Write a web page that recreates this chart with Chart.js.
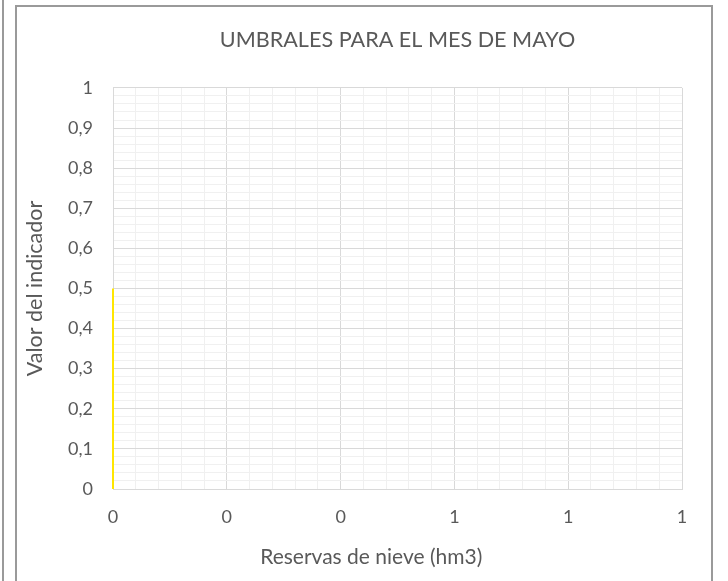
<!DOCTYPE html>
<html lang="es">
<head>
<meta charset="utf-8">
<title>Umbrales para el mes de mayo</title>
<script src="https://cdn.jsdelivr.net/npm/chart.js@4"></script>
<style>
    html, body { margin: 0; padding: 0; background: #ffffff; }
    body { width: 728px; height: 581px; position: relative; overflow: hidden; }
    /* marcos grises de la hoja */
    .marco-izq { position: absolute; left: 2px; top: 0; width: 1px; height: 581px; border-left: 2px solid #9a9a9a; }
    .marco { position: absolute; left: 15px; top: 5px; width: 694px; height: 600px; border: 2px solid #9a9a9a; }
    #umbralesChart { position: absolute; left: 0; top: 0; }
</style>
</head>
<body>
<div class="marco-izq"></div>
<div class="marco"></div>
<canvas id="umbralesChart" width="728" height="581"></canvas>
<script>
    // Datos de la serie (reservas de nieve vs valor del indicador)
    const reservasNieve = [0, 0];
    const valorIndicador = [0, 0.5];

    // Etiquetas de los ejes tal y como aparecen (formato sin decimales en X)
    const etiquetasX = ['0', '0', '0', '1', '1', '1'];
    const etiquetasY = ['0', '0,1', '0,2', '0,3', '0,4', '0,5', '0,6', '0,7', '0,8', '0,9', '1'];

    const colorTexto = '#595959';
    const rejillaMayor = '#d9d9d9';
    const rejillaMenor = '#f0f0f0';

    function esMultiplo(valor, paso) {
        const q = valor / paso;
        return Math.abs(q - Math.round(q)) < 1e-6;
    }

    function crearGraficoUmbrales() {
        const ctx = document.getElementById('umbralesChart');
        if (!ctx) {
            console.error("No se encontró el canvas 'umbralesChart'.");
            return;
        }

        const puntos = reservasNieve.map((x, i) => ({ x: x, y: valorIndicador[i] }));

        new Chart(ctx.getContext('2d'), {
            type: 'scatter',
            data: {
                datasets: [{
                    label: 'Umbral',
                    data: puntos,
                    showLine: true,
                    borderColor: '#ffe600',
                    borderWidth: 2,
                    pointRadius: 0,
                    pointHoverRadius: 0,
                    clip: false
                }]
            },
            options: {
                responsive: false,
                animation: false,
                layout: { padding: { left: 0, right: 46, top: 0, bottom: 0 } },
                plugins: {
                    legend: { display: false },
                    tooltip: { enabled: false },
                    title: {
                        display: true,
                        fullSize: false, // centrado sobre el área de trazado
                        text: 'UMBRALES PARA EL MES DE MAYO',
                        color: colorTexto,
                        font: { family: 'Lato', size: 21.6, weight: 'normal' },
                        padding: { top: 27, bottom: 35 }
                    }
                },
                scales: {
                    x: {
                        type: 'linear',
                        min: 0,
                        max: 1,
                        afterFit: (scale) => { scale.height = 581 - 489; },
                        ticks: {
                            stepSize: 0.04,
                            maxTicksLimit: 100,
                            autoSkip: false,
                            maxRotation: 0,
                            padding: 17,
                            color: colorTexto,
                            font: { family: 'Lato', size: 18 },
                            callback: function (value) {
                                if (!esMultiplo(value, 0.2)) return '';
                                return etiquetasX[Math.round(value / 0.2)];
                            }
                        },
                        grid: {
                            drawTicks: false,
                            color: (c) => (c.tick && esMultiplo(c.tick.value, 0.2)) ? rejillaMayor : rejillaMenor,
                            lineWidth: 1
                        },
                        border: { color: rejillaMayor, width: 1 },
                        title: {
                            display: true,
                            // espacios finales para desplazar el título algo a la izquierda, como en el original
                            text: 'Reservas de nieve (hm3)\u2002\u2002\u2002\u2002\u2002',
                            color: colorTexto,
                            font: { family: 'Lato', size: 21 },
                            padding: { top: 0, bottom: 11.5 }
                        }
                    },
                    y: {
                        type: 'linear',
                        min: 0,
                        max: 1,
                        afterFit: (scale) => { scale.width = 113; },
                        ticks: {
                            stepSize: 0.02,
                            maxTicksLimit: 100,
                            autoSkip: false,
                            padding: 20,
                            color: colorTexto,
                            font: { family: 'Lato', size: 18 },
                            callback: function (value) {
                                if (!esMultiplo(value, 0.1)) return '';
                                return etiquetasY[Math.round(value / 0.1)];
                            }
                        },
                        grid: {
                            drawTicks: false,
                            color: (c) => (c.tick && esMultiplo(c.tick.value, 0.1)) ? rejillaMayor : rejillaMenor,
                            lineWidth: 1
                        },
                        border: { color: rejillaMayor, width: 1 },
                        title: {
                            display: true,
                            text: 'Valor del indicador',
                            color: colorTexto,
                            font: { family: 'Lato', size: 21.5 },
                            padding: { top: 22, bottom: 0 }
                        }
                    }
                }
            }
        });
    }

    document.addEventListener('DOMContentLoaded', crearGraficoUmbrales);
</script>
</body>
</html>
